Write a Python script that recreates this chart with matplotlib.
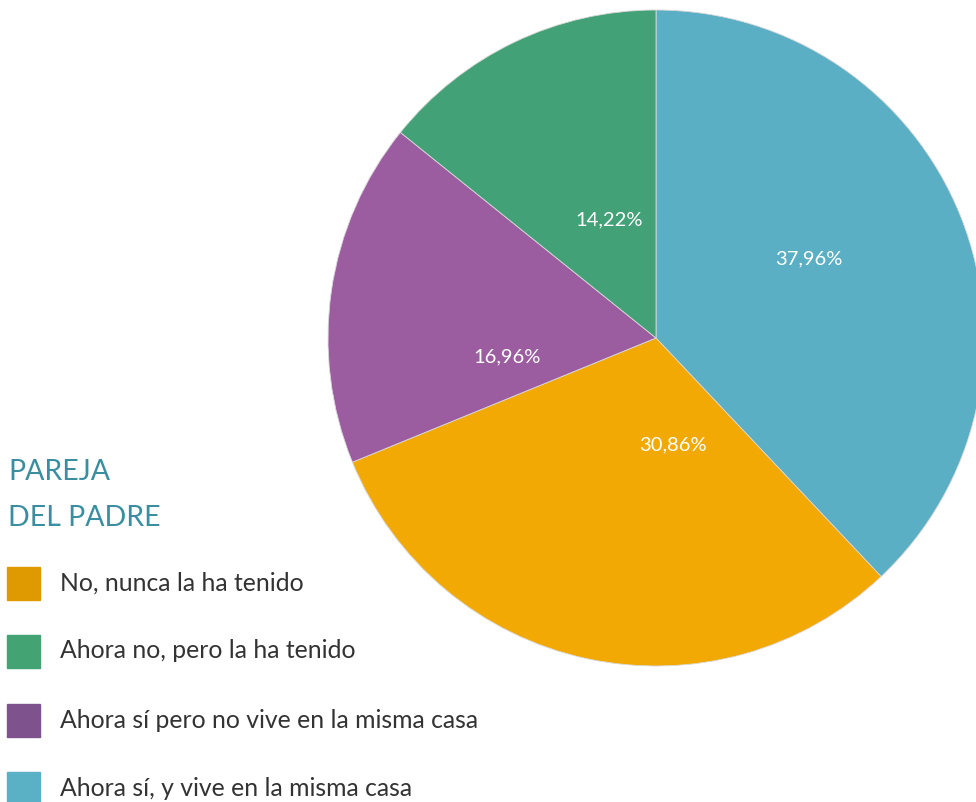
import numpy as np
import matplotlib.pyplot as plt
from matplotlib.patches import Rectangle

categorias = ['No, nunca la ha tenido', 'Ahora no, pero la ha tenido',
              'Ahora sí pero no vive en la misma casa', 'Ahora sí, y vive en la misma casa']
valores = [30.86, 14.22, 16.96, 37.96]
colores_pie = ['#F3A904', '#42A176', '#9C5DA0', '#5AAFC4']
colores_leyenda = ['#DE9A00', '#44A373', '#7E528D', '#5AB0C5']

# orden del pastel: sentido horario desde arriba
orden = [3, 0, 2, 1]
# desplazamiento de cada etiqueta respecto al centro (px)
offsets = {3: (153, 79), 0: (17, -107), 2: (-149, -19), 1: (-47, 118)}

W, H = 976, 802
fig = plt.figure(figsize=(W / 100, H / 100), dpi=100)
ax = fig.add_axes([0, 0, 1, 1])

cx, cy, r = 656, H - 338, 328
wedges, textos, autotextos = ax.pie(
    [valores[i] for i in orden], colors=[colores_pie[i] for i in orden],
    startangle=90, counterclock=False, center=(cx, cy), radius=r,
    autopct=lambda p: f'{p:.2f}%'.replace('.', ','), pctdistance=0.5,
    wedgeprops=dict(linewidth=0.6, edgecolor='#d8d8d8'),
    textprops=dict(color='white', fontsize=14.5, family='Lato'))
for t, i in zip(autotextos, orden):
    dx, dy = offsets[i]
    t.set_position((cx + dx, cy + dy))
    t.set_text(f'{valores[i]:.2f}%'.replace('.', ','))

ax.set_xlim(0, W)
ax.set_ylim(0, H)
ax.set_aspect('equal')
ax.axis('off')

ax.text(8, H - 472, 'PAREJA', color='#3A8EA0', fontsize=20.5, family='Lato', va='center')
ax.text(8, H - 518, 'DEL PADRE', color='#3A8EA0', fontsize=20.5, family='Lato', va='center')

filas_y = [583, 651, 720, 788]
for cat, col, fy in zip(categorias, colores_leyenda, filas_y):
    ax.add_patch(Rectangle((7, H - fy - 16.5), 33, 33, color=col))
    ax.text(60, H - fy, cat, color='#333333', fontsize=17.8, family='Lato', va='center')

fig.savefig('out.png', dpi=100)
